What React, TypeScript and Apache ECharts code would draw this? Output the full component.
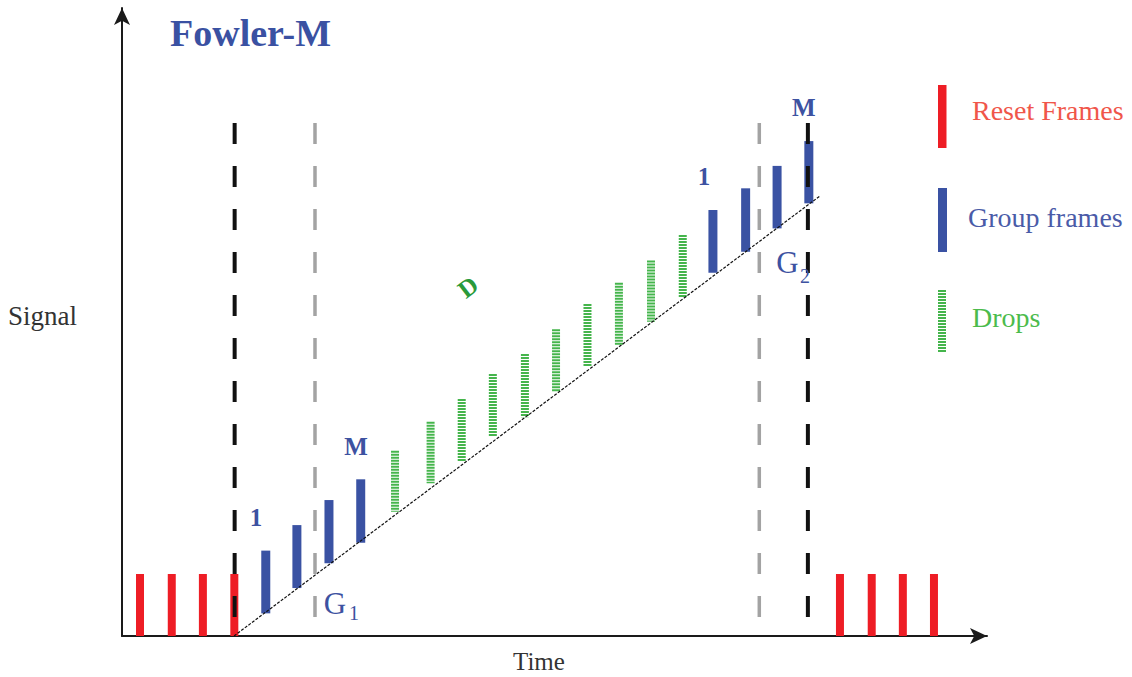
import React, { useEffect, useRef } from "react";
import * as echarts from "echarts";

// time unit = one frame; signal unit = one frame of ramp
const resetTimes = [0, 1.0, 1.98, 2.97, 22.04, 23.04, 24.02, 25.0];
const resetLow = [0, 0, 0, 0, 0, 0, 0, 0];
const resetHigh = [2.6, 2.6, 2.6, 2.6, 2.6, 2.6, 2.6, 2.6];

const groupTimes = [3.96, 4.94, 5.95, 6.95, 18.04, 19.07, 20.06, 21.06];
const groupLow = [0.95, 2.01, 3.05, 3.91, 15.23, 16.11, 17.09, 18.14];
const groupHigh = [3.58, 4.65, 5.7, 6.57, 17.86, 18.77, 19.71, 20.75];

const dropTimes = [8.03, 9.15, 10.13, 11.11, 12.12, 13.1, 14.09, 15.08, 16.09, 17.09];
const dropLow = [5.21, 6.4, 7.31, 8.39, 9.17, 10.25, 11.31, 12.2, 13.18, 14.2];
const dropHigh = [7.77, 8.98, 9.94, 10.99, 11.82, 12.86, 13.92, 14.81, 15.74, 16.81];

const rampTimes = [2.96, 21.41];
const rampSignal = [0, 18.45];

const boundaryTimes = [2.98, 21.03]; // black dashed
const fowlerTimes = [5.51, 19.5]; // gray dashed
const markerTop = 21.51;

const annoTexts = ["1", "M", "1", "M", "G", "1", "G", "2", "D"];
const annoTimes = [3.65, 6.8, 17.76, 20.9, 6.14, 6.74, 20.39, 20.94, 10.33];
const annoSignal = [4.95, 7.95, 19.25, 22.14, 1.38, 0.96, 15.66, 15.09, 14.63];
const annoKind = ["num", "num", "num", "num", "g", "sub", "g", "sub", "d"];

const legendLabels = ["Reset Frames", "Group frames", "Drops"];

const SERIF = '"Liberation Serif", "Times New Roman", serif';

export default function App() {
  const ref = useRef<HTMLDivElement>(null);
  useEffect(() => {
    if (!ref.current) return;
    const chart = echarts.init(ref.current, null, { renderer: "svg" });

    const barSeries = (times: number[], low: number[], high: number[], color: string, w: number) => ({
      type: "custom",
      clip: false,
      z: 3,
      data: times.map((t, i) => [t, low[i], high[i]]),
      renderItem: (params: any, api: any) => {
        const b = api.coord([api.value(0), api.value(1)]);
        const tp = api.coord([api.value(0), api.value(2)]);
        return {
          type: "rect",
          shape: { x: b[0] - w / 2, y: tp[1], width: w, height: b[1] - tp[1] },
          style: { fill: color },
        };
      },
    });

    const vlineSeries = (times: number[], color: string, w: number) => ({
      type: "custom",
      clip: false,
      z: 5,
      data: times.map((t) => [t, markerTop]),
      renderItem: (params: any, api: any) => {
        const tp = api.coord([api.value(0), api.value(1)]);
        const b = api.coord([api.value(0), 0]);
        return {
          type: "line",
          shape: { x1: tp[0], y1: tp[1], x2: b[0], y2: b[1] },
          style: { stroke: color, lineWidth: w, lineDash: [21, 22] },
        };
      },
    });

    const annoStyle: Record<string, any> = {
      num: { font: `bold 25px ${SERIF}`, fill: "#3d52a1" },
      g: { font: `31px ${SERIF}`, fill: "#3d52a1" },
      sub: { font: `20px ${SERIF}`, fill: "#3d52a1" },
      d: { font: `bold 25px ${SERIF}`, fill: "#2a9a3a" },
    };

    const option: any = {
      animation: false,
      backgroundColor: "#ffffff",
      grid: { left: 122, top: 8, right: 145, bottom: 41 },
      xAxis: {
        type: "value",
        min: -0.567,
        max: 26.67,
        axisLine: {
          show: true,
          onZero: false,
          symbol: ["none", "arrow"],
          symbolSize: [12, 17],
          lineStyle: { color: "#1a1a1a", width: 2 },
        },
        axisTick: { show: false },
        axisLabel: { show: false },
        splitLine: { show: false },
      },
      yAxis: {
        type: "value",
        min: 0,
        max: 26.33,
        axisLine: {
          show: true,
          onZero: false,
          symbol: ["none", "arrow"],
          symbolSize: [12, 17],
          lineStyle: { color: "#1a1a1a", width: 2 },
        },
        axisTick: { show: false },
        axisLabel: { show: false },
        splitLine: { show: false },
      },
      series: [
        barSeries(resetTimes, resetLow, resetHigh, "#ee1d25", 8),
        barSeries(groupTimes, groupLow, groupHigh, "#3a52a3", 9),
        {
          type: "custom",
          clip: false,
          z: 3,
          data: dropTimes.map((t, i) => [t, dropLow[i], dropHigh[i]]),
          renderItem: (params: any, api: any) => {
            const b = api.coord([api.value(0), api.value(1)]);
            const tp = api.coord([api.value(0), api.value(2)]);
            return {
              type: "line",
              shape: { x1: tp[0], y1: tp[1], x2: b[0], y2: b[1] },
              style: { stroke: "#45b54c", lineWidth: 8, lineDash: [2, 1] },
            };
          },
        },
        {
          type: "line",
          z: 4,
          symbol: "none",
          data: rampTimes.map((t, i) => [t, rampSignal[i]]),
          lineStyle: { color: "#111111", width: 1.2, type: [3, 1.5] },
        },
        vlineSeries(boundaryTimes, "#111111", 4),
        vlineSeries(fowlerTimes, "#a3a3a3", 3.5),
        {
          type: "custom",
          clip: false,
          z: 6,
          data: annoTimes.map((t, i) => [t, annoSignal[i], i]),
          renderItem: (params: any, api: any) => {
            const i = api.value(2);
            const p = api.coord([api.value(0), api.value(1)]);
            const kind = annoKind[i];
            return {
              type: "text",
              x: p[0],
              y: p[1],
              rotation: kind === "d" ? 0.65 : 0,
              style: {
                text: annoTexts[i],
                ...annoStyle[kind],
                align: "center",
                verticalAlign: "middle",
              },
            };
          },
        },
      ],
      graphic: [
        {
          type: "text",
          left: 170,
          top: 14,
          style: { text: "Fowler-M", font: `bold 38px ${SERIF}`, fill: "#3a51a2" },
        },
        {
          type: "text",
          x: 8,
          y: 316,
          style: { text: "Signal", font: `27px ${SERIF}`, fill: "#333333", verticalAlign: "middle" },
        },
        {
          type: "text",
          x: 513,
          y: 661,
          style: { text: "Time", font: `25px ${SERIF}`, fill: "#333333", verticalAlign: "middle" },
        },
        { type: "rect", shape: { x: 938, y: 85, width: 8.5, height: 63 }, style: { fill: "#ee1d25" } },
        { type: "rect", shape: { x: 938, y: 188, width: 9, height: 64 }, style: { fill: "#3a52a3" } },
        {
          type: "line",
          shape: { x1: 942, y1: 290, x2: 942, y2: 353 },
          style: { stroke: "#45b54c", lineWidth: 8, lineDash: [2, 1] },
        },
        {
          type: "text",
          x: 972,
          y: 110.5,
          style: { text: legendLabels[0], font: `28px ${SERIF}`, fill: "#f0564a", verticalAlign: "middle" },
        },
        {
          type: "text",
          x: 968,
          y: 217,
          style: { text: legendLabels[1], font: `28px ${SERIF}`, fill: "#4a5ba8", verticalAlign: "middle" },
        },
        {
          type: "text",
          x: 972,
          y: 317,
          style: { text: legendLabels[2], font: `28px ${SERIF}`, fill: "#4cbb4c", verticalAlign: "middle" },
        },
      ],
    };

    chart.setOption(option);
    return () => chart.dispose();
  }, []);

  return (
    <div
      ref={ref}
      style={{ position: "fixed", left: 0, top: 0, width: 1132, height: 677, background: "#fff" }}
    />
  );
}
